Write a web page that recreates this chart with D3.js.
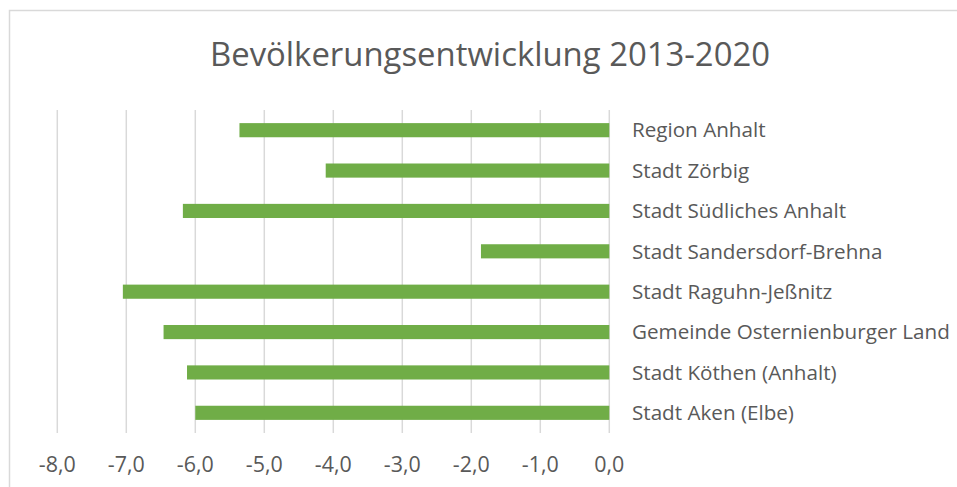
<!DOCTYPE html>
<html>
<head>
<meta charset="utf-8">
<script src="https://cdn.jsdelivr.net/npm/d3@7"></script>
<style>
  html, body { margin: 0; padding: 0; background: #fff; }
  svg { display: block; font-family: "Open Sans", "Noto Sans", sans-serif; }
</style>
</head>
<body>
<svg id="chart" width="957" height="487"></svg>
<script>
// Daten
const title = "Bevölkerungsentwicklung 2013-2020";
const categories = [
  "Region Anhalt",
  "Stadt Zörbig",
  "Stadt Südliches Anhalt",
  "Stadt Sandersdorf-Brehna",
  "Stadt Raguhn-Jeßnitz",
  "Gemeinde Osternienburger Land",
  "Stadt Köthen (Anhalt)",
  "Stadt Aken (Elbe)"
];
const values = [-5.36, -4.11, -6.18, -1.86, -7.05, -6.46, -6.12, -6.0];
const tickValues = [-8, -7, -6, -5, -4, -3, -2, -1, 0];

const svg = d3.select("#chart");
const textColor = "#595959";
const gridColor = "#d9d9d9";
const barColor = "#70ad47";

// Rahmen
svg.append("rect")
  .attr("x", 9.5).attr("y", 10.5)
  .attr("width", 1000).attr("height", 500)
  .attr("fill", "none")
  .attr("stroke", gridColor)
  .attr("stroke-width", 1.5);

const x = d3.scaleLinear().domain([-8, 0]).range([57.3, 609.3]);
const y = d3.scaleBand().domain(categories).range([110, 433]).paddingInner(0.65).paddingOuter(0.325);

// Schrift an Zielbreite anpassen
function fitText(sel, base, target) {
  sel.style("font-size", base + "px");
  const w = sel.node().getComputedTextLength();
  sel.style("font-size", (base * target / w).toFixed(2) + "px");
}

// Titel
const t = svg.append("text")
  .attr("x", 490).attr("y", 66)
  .attr("text-anchor", "middle")
  .attr("fill", textColor)
  .text(title);
fitText(t, 30, 560);

// Gitterlinien
svg.append("g")
  .selectAll("line")
  .data(tickValues)
  .join("line")
  .attr("x1", d => x(d)).attr("x2", d => x(d))
  .attr("y1", 110).attr("y2", 433)
  .attr("stroke", gridColor)
  .attr("stroke-width", 1.5);

// Balken
svg.append("g")
  .selectAll("rect")
  .data(values)
  .join("rect")
  .attr("x", d => x(d))
  .attr("y", (d, i) => y(categories[i]))
  .attr("width", d => x(0) - x(d))
  .attr("height", y.bandwidth())
  .attr("fill", barColor);

// Kategorien rechts
const labels = svg.append("g")
  .selectAll("text")
  .data(categories)
  .join("text")
  .attr("x", 632)
  .attr("y", d => y(d) + y.bandwidth() / 2)
  .attr("dy", "0.35em")
  .attr("fill", textColor)
  .text(d => d);
const longest = labels.filter(d => d === "Gemeinde Osternienburger Land");
longest.style("font-size", "18px");
const lw = longest.node().getComputedTextLength();
labels.style("font-size", (18 * 318 / lw).toFixed(2) + "px");

// Achsenbeschriftung
const fmt = d => d3.format(".1f")(d).replace(".", ",").replace("−", "-");
const ticks = svg.append("g")
  .selectAll("text")
  .data(tickValues)
  .join("text")
  .attr("x", d => x(d))
  .attr("y", 471.5)
  .attr("text-anchor", "middle")
  .attr("fill", textColor)
  .text(fmt);
const first = ticks.filter(d => d === -8);
first.style("font-size", "18px");
const tw = first.node().getComputedTextLength();
ticks.style("font-size", (18 * 37 / tw).toFixed(2) + "px");
</script>
</body>
</html>
